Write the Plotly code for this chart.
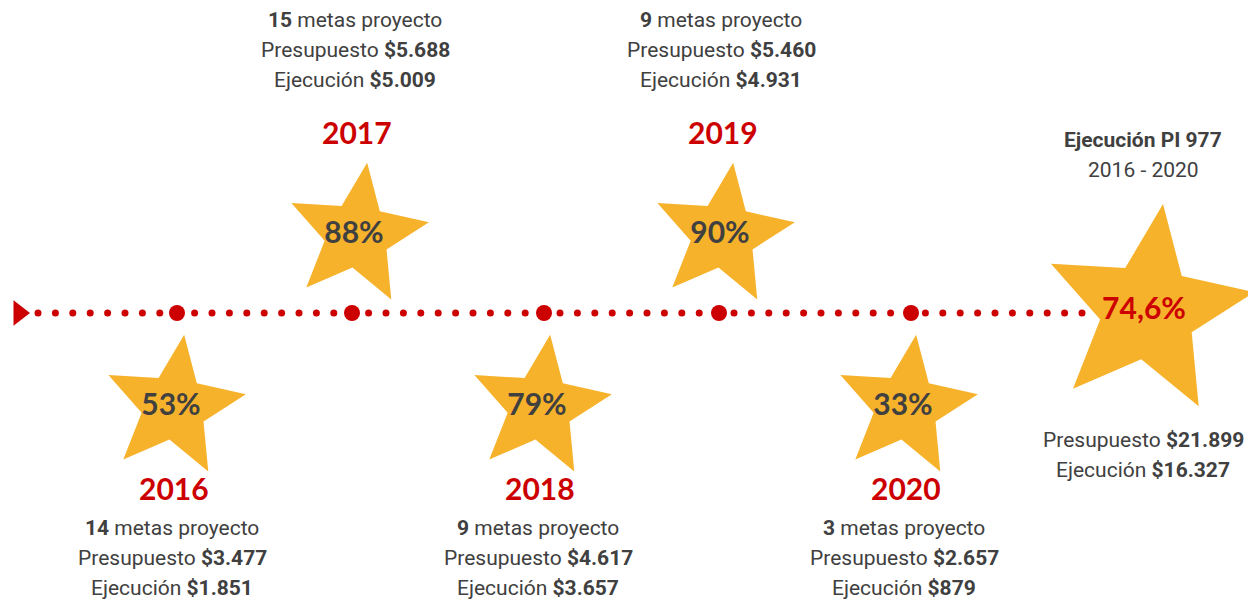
import numpy as np
import plotly.graph_objects as go

# ---- data ----
years = [2016, 2017, 2018, 2019, 2020]
metas = [14, 15, 9, 9, 3]
presupuesto = ["3.477", "5.688", "4.617", "5.460", "2.657"]
ejecucion = ["1.851", "5.009", "3.657", "4.931", "879"]
porcentaje = [53, 88, 79, 90, 33]
total_titulo = "Ejecución PI 977"
total_periodo = "2016 - 2020"
total_presupuesto = "21.899"
total_ejecucion = "16.327"
total_porcentaje = "74,6%"

# ---- layout (pixel space; page body has an 8px margin) ----
W, H = 1256, 605
OFF = 8
line_y = 313
dot_x = [177, 352, 544, 719, 911]
star_pos = [(174, 407), (357, 235), (540, 407), (723, 235), (906, 407)]
total_star = (1148, 311)
R_SMALL, R_BIG = 73, 108
RATIO, ROT = 0.45, 8

STAR = "#F7B22B"
RED = "#CC0000"
GRAY = "#404040"
FONT = "Roboto, sans-serif"
NUMFONT = "Lato, Open Sans, sans-serif"


def star_xy(cx, cy, r, ratio=RATIO, rot=ROT):
    xs, ys = [], []
    for k in range(11):
        a = np.deg2rad(rot + 36 * k)
        rr = r if k % 2 == 0 else r * ratio
        xs.append(cx + rr * np.sin(a))
        ys.append(cy - rr * np.cos(a))
    return xs, ys


fig = go.Figure()

# dotted timeline
small = np.arange(38, 1090, 17.4)
small = [x for x in small if all(abs(x - d) > 10 for d in dot_x)]
fig.add_trace(go.Scatter(x=small, y=[line_y] * len(small), mode="markers",
                         marker=dict(size=7, color=RED), hoverinfo="skip"))
fig.add_trace(go.Scatter(x=[19], y=[line_y], mode="markers",
                         marker=dict(symbol="triangle-right", size=22, color=RED),
                         hoverinfo="skip"))
fig.add_trace(go.Scatter(x=dot_x, y=[line_y] * len(dot_x), mode="markers",
                         marker=dict(size=16, color=RED), hoverinfo="skip"))

# stars
for (cx, cy) in star_pos:
    xs, ys = star_xy(cx, cy, R_SMALL)
    fig.add_trace(go.Scatter(x=xs, y=ys, mode="lines", fill="toself",
                             fillcolor=STAR, line=dict(width=0, color=STAR),
                             hoverinfo="skip"))
xs, ys = star_xy(total_star[0], total_star[1], R_BIG)
fig.add_trace(go.Scatter(x=xs, y=ys, mode="lines", fill="toself",
                         fillcolor=STAR, line=dict(width=0, color=STAR),
                         hoverinfo="skip"))

fig.add_trace(go.Scatter(x=[p[0] - 3 for p in star_pos], y=[p[1] for p in star_pos],
                         mode="text",
                         text=[f"<b>{v}%</b>" for v in porcentaje],
                         textposition="middle center",
                         textfont=dict(family=NUMFONT, size=30, color=GRAY),
                         hoverinfo="skip"))
fig.add_trace(go.Scatter(x=[total_star[0] - 4], y=[total_star[1]], mode="text",
                         text=[f"<b>{total_porcentaje}</b>"],
                         textposition="middle center",
                         textfont=dict(family=NUMFONT, size=30, color=RED),
                         hoverinfo="skip"))

ann = []


def add_line(x, y, text, size=21, color=GRAY, family=FONT):
    ann.append(dict(x=x, y=y, text=text, showarrow=False,
                    font=dict(family=family, size=size, color=color)))


for i, yr in enumerate(years):
    x = star_pos[i][0] - 2
    lines = [f"<b>{metas[i]}</b> metas proyecto",
             f"Presupuesto <b>${presupuesto[i]}</b>",
             f"Ejecución <b>${ejecucion[i]}</b>"]
    if i % 2 == 0:
        year_y, ys_ = 488, [528, 558, 588]
    else:
        year_y, ys_ = 132, [20, 50, 80]
    add_line(x + 2, year_y, f"<b>{yr}</b>", size=30, color=RED, family=NUMFONT)
    for t, yy in zip(lines, ys_):
        add_line(x, yy, t)

add_line(1143, 140, f"<b>{total_titulo}</b>")
add_line(1143, 170, total_periodo)
add_line(1143, 440, f"Presupuesto <b>${total_presupuesto}</b>")
add_line(1143, 470, f"Ejecución <b>${total_ejecucion}</b>")

fig.update_layout(
    width=W - OFF, height=H - OFF, margin=dict(l=0, r=0, t=0, b=0),
    paper_bgcolor="white", plot_bgcolor="white", showlegend=False,
    xaxis=dict(range=[OFF, W], visible=False, fixedrange=True),
    yaxis=dict(range=[H, OFF], visible=False, fixedrange=True),
    annotations=ann,
)
fig.write_html("out.html")
